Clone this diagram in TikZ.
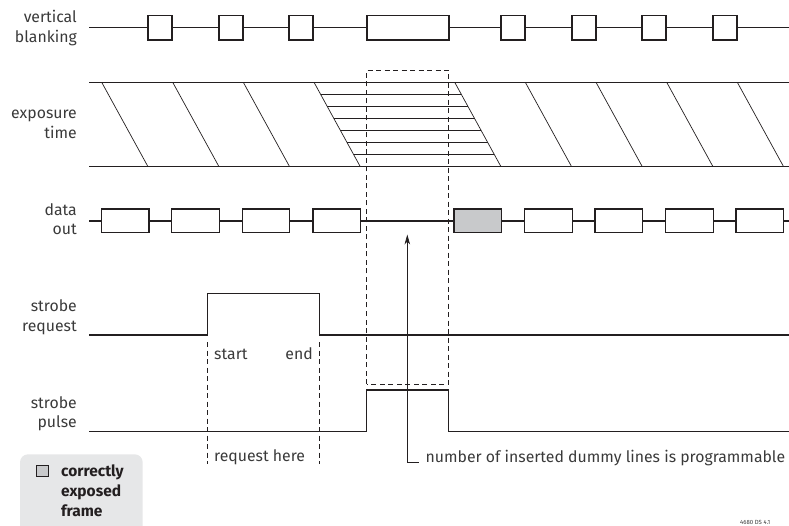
\documentclass[tikz,border=0pt]{standalone}
\usepackage{fontspec}
\setmainfont{Fira Sans}
\usetikzlibrary{arrows.meta}
\definecolor{ink}{HTML}{231F20}
\definecolor{txt}{HTML}{3A3A3A}
\definecolor{boxgray}{HTML}{C8C9CB}
\definecolor{leggray}{HTML}{E6E7E8}
\begin{document}
\begin{tikzpicture}[x=1pt,y=-1pt,
  sig/.style={draw=ink,line width=1.5pt},
  thinline/.style={draw=ink,line width=0.7pt},
  dashline/.style={draw=ink,line width=0.7pt,dash pattern=on 5pt off 3.5pt},
  lbl/.style={anchor=base east,align=right,text=txt,font=\fontsize{15.8}{19.5}\selectfont,inner sep=0pt},
  small/.style={anchor=base west,text=txt,font=\fontsize{15.8}{19.5}\selectfont,inner sep=0pt},
  pulsebox/.style={sig,fill=white},
  graybox/.style={sig,fill=boxgray}]
\useasboundingbox (0,0) rectangle (789,526);

% ---------- labels (anchored at the baseline of the last line) ----------
\node[lbl] (lvb) at (77,42.3) {vertical\\blanking};
\node[lbl] (lexp) at (77,138.3) {exposure\\time};
\node[lbl] (ldata) at (77,235) {data\\out};
\node[lbl] (lreq) at (77,331) {strobe\\request};
\node[lbl] (lpul) at (77,427.5) {strobe\\pulse};

% ---------- vertical blanking ----------
\draw[sig] (89,27.5) -- (789,27.5);
\foreach \a/\b in {148/172,219/243,289/313,367/449,501/525,572/596,642/666,713/737}
  \draw[pulsebox] (\a,15.7) rectangle (\b,40);

% ---------- exposure time ----------
\foreach \t in {101.7,172.7,243.3,314,454.7,525.3,596,666.7,737.3}
  \draw[thinline] (\t,82.3) -- ({\t+46.3},166.7);
\foreach \k in {1,...,6}{
  \pgfmathsetmacro{\yy}{82.3+\k*12.06}
  \pgfmathsetmacro{\dx}{46.3*\k*12.06/84.4}
  \draw[thinline] ({314+\dx},\yy) -- ({454.7+\dx},\yy);
}
\draw[sig] (89,82.3) -- (789,82.3);
\draw[sig] (89,166.7) -- (789,166.7);

% ---------- data out ----------
\draw[sig] (89,221) -- (789,221);
\foreach \a/\b in {101.7/149,171.7/219.3,242.3/289.7,313/360.3,524.7/572.3,595/642.7,665.7/713.3,736/783.7}
  \draw[pulsebox] (\a,209) rectangle (\b,232.7);
\draw[graybox] (454,209) rectangle (501.3,232.7);

% ---------- strobe request ----------
\draw[sig] (89,335) -- (207.3,335) -- (207.3,293.3) -- (319.3,293.3) -- (319.3,335) -- (789,335);
\draw[dashline] (207.3,342) -- (207.3,464);
\draw[dashline] (319.3,342) -- (319.3,464);
\node[small] (lstart) at (214,359) {start};
\node[small,anchor=base east] (lend) at (313,359) {end};
\node[small] (lhere) at (214,461.7) {request here};

% ---------- strobe pulse ----------
\draw[sig] (89,431.7) -- (366.7,431.7) -- (366.7,390) -- (448.7,390) -- (448.7,431.7) -- (789,431.7);

% ---------- dashed window ----------
\draw[dashline] (366.7,384) -- (366.7,70.3) -- (448.7,70.3) -- (448.7,384) -- cycle;

% ---------- annotation arrow ----------
\node[small] (note) at (425.5,462.7) {number of inserted dummy lines is programmable};
\coordinate (tip) at (407.3,234.5);
\draw[thinline,-{Stealth[length=10pt,width=5.5pt,inset=3pt]}] ([xshift=-7pt]note.base west) -| (tip);

% ---------- legend ----------
\path[fill=leggray,rounded corners=8pt] (20,454.3) rectangle (142.7,534);
\draw[graybox,line width=1.3pt] (36.5,465.5) rectangle (48.5,476.5);
\node[anchor=base west,align=left,inner sep=0pt,text=ink,font=\fontsize{15.5}{20}\selectfont\bfseries] (leg) at (61,516.7) {correctly\\exposed\\frame};

% ---------- figure id ----------
\node[anchor=base west,inner sep=0pt,text=txt,font=\fontsize{6}{7}\selectfont] (figid) at (740,524.3) {4680 DS 4.1};
\end{tikzpicture}
\end{document}
